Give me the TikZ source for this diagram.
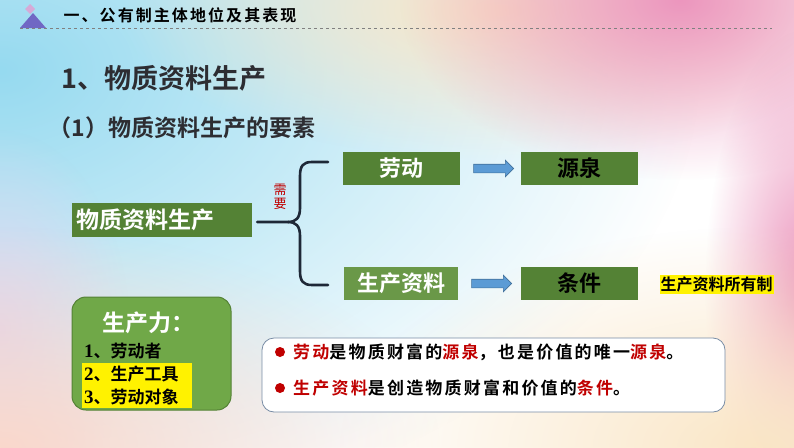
\documentclass[tikz,border=0pt]{standalone}
\usepackage{fontspec}
\setmainfont{Noto Sans CJK SC}[BoldFont={Noto Sans CJK SC Bold}]
\newfontfamily\spaced{Noto Sans CJK SC}[LetterSpace=13,BoldFont={Noto Sans CJK SC Bold}]
\newfontfamily\numfont{Liberation Serif}
\usetikzlibrary{positioning,calc,shapes.arrows,fadings}

\definecolor{boxgreen}{RGB}{84,130,53}
\definecolor{lightgreen}{RGB}{106,152,72}
\definecolor{panelgreen}{RGB}{112,168,72}
\definecolor{arrowblue}{RGB}{91,155,213}
\definecolor{arrowedge}{RGB}{65,113,156}
\definecolor{darkred}{RGB}{192,0,0}
\definecolor{bracecol}{RGB}{30,40,55}
\definecolor{hdpurple}{RGB}{112,104,196}
\definecolor{hdpink}{RGB}{214,170,215}
\definecolor{titlegray}{RGB}{45,45,50}
\definecolor{bgblue}{RGB}{150,218,240}
\definecolor{bgpink}{RGB}{236,150,190}
\definecolor{bgcream}{RGB}{250,230,198}
\definecolor{bgpeach}{RGB}{250,216,204}
\definecolor{bglav}{RGB}{222,214,240}
\definecolor{panelline}{RGB}{120,140,165}

\tikzfading[name=softedge, inner color=transparent!0, outer color=transparent!100]

\newcommand{\fsz}[1]{\fontsize{#1}{#1}\selectfont}

\begin{document}
\begin{tikzpicture}[x=1pt, y=-1pt,
    greenbox/.style={fill=boxgreen, minimum width=117pt, minimum height=33pt, inner sep=0pt, font=\bfseries\fsz{22}},
    flowarrow/.style={single arrow, draw=arrowedge, fill=arrowblue, line width=0.6pt,
        minimum height=40pt, inner xsep=0pt, inner ysep=4pt, single arrow head extend=4pt},
    brace/.style={draw=bracecol, line width=2.6pt, line cap=round, line join=round},
    hilite/.style={fill=yellow, anchor=west, inner xsep=2pt, inner ysep=0pt, minimum height=23pt,
        text width=106pt, font=\bfseries\fsz{17}},
    bullet/.style={circle, fill=darkred, inner sep=0pt, minimum size=10pt},
    blob/.style={path fading=softedge}]

    % page and background
    \useasboundingbox (0,0) rectangle (794,447);
    \fill[white] (0,0) rectangle (794,447);
    \begin{scope}
        \clip (0,0) rectangle (794,447);
        \fill[bgblue, blob] (0,70) ellipse [x radius=700pt, y radius=460pt];
        \fill[bglav, blob] (0,330) ellipse [x radius=130pt, y radius=200pt];
        \fill[bgpeach, blob] (0,447) ellipse [x radius=440pt, y radius=220pt];
        \fill[bgcream, blob] (500,10) ellipse [x radius=380pt, y radius=150pt];
        \fill[bgpink, blob] (680,0) ellipse [x radius=280pt, y radius=180pt];
        \fill[bgpink, blob] (805,290) ellipse [x radius=100pt, y radius=260pt];
        \fill[bgcream, blob] (760,447) ellipse [x radius=420pt, y radius=220pt];
    \end{scope}

    % header
    \fill[hdpink] (30,4) -- (35,9) -- (30,14) -- (25,9) -- cycle;
    \fill[hdpurple] (20,28) -- (33,13) -- (46,28) -- cycle;
    \draw[gray, dashed, line width=0.6pt] (20,28.5) -- (772,28.5);
    \node[anchor=west, font=\spaced\bfseries\fsz{16}, text=black] (header) at (60,15) {一、公有制主体地位及其表现};

    % titles
    \node[anchor=west, font=\bfseries\fsz{27}, text=titlegray] (title) at (58,78) {1、物质资料生产};
    \node[anchor=west, font=\bfseries\fsz{23}, text=titlegray] (subtitle) at (45,128) {（1）物质资料生产的要素};

    % boxes
    \node[greenbox, minimum width=180pt, minimum height=34pt, text width=172pt, align=left,
        font=\bfseries\fsz{23}, text=white] (prod) at (162,220) {物质资料生产};
    \node[greenbox, text=white] (labor) at (401.5,168.5) {劳动};
    \node[greenbox, text=black] (source) at (579.5,168.5) {源泉};
    \node[greenbox, fill=lightgreen, minimum width=114pt, text=white] (means) at (401,283.5) {生产资料};
    \node[greenbox, text=black] (cond) at (579.5,283.5) {条件};
    \node[fill=yellow, inner xsep=1pt, inner ysep=2pt, font=\bfseries\fsz{16}] (owner) at (716.5,284.5) {生产资料所有制};

    % block arrows
    \node[flowarrow] (arr1) at ($(labor.east)!0.5!(source.west)+(1,0)$) {};
    \node[flowarrow] (arr2) at ($(means.east)!0.5!(cond.west)$) {};

    % brace
    \coordinate (tip) at (288,222);
    \coordinate (btop) at (328,162);
    \coordinate (bbot) at (328,285);
    \draw[brace] ($(prod.east)+(5,2)$) -- (tip) .. controls (296,222) and (300,218) .. (300,208)
        -- (300,176) .. controls (300,166) and (303,162) .. (312,162) -- (btop);
    \draw[brace] (tip) .. controls (296,222) and (300,226) .. (300,236)
        -- (300,271) .. controls (300,281) and (303,285) .. (312,285) -- (bbot);
    \node[align=center, font=\fsz{13}, text=darkred, inner sep=0pt] (need) at (280,197) {需\\[1pt]要};

    % productive forces panel
    \draw[boxgreen, fill=panelgreen, line width=1pt, rounded corners=14pt] (72,297) rectangle (231,410);
    \node[font=\bfseries\fsz{23}, text=white] (forces) at (148,323) {生产力：};
    \node[anchor=west, font=\bfseries\fsz{17}, inner xsep=2pt] (f1) at (82,351) {{\numfont\fontsize{19}{19}\selectfont 1}、劳动者};
    \node[hilite] (f2) at (82,374) {{\numfont\fontsize{19}{19}\selectfont 2}、生产工具};
    \node[hilite] (f3) at (82,396.5) {{\numfont\fontsize{19}{19}\selectfont 3}、劳动对象};

    % explanation panel
    \draw[panelline, fill=white, line width=0.8pt, rounded corners=12pt] (262,338) rectangle (725,412);
    \node[bullet] (b1) at (280,352) {};
    \node[bullet] (b2) at (280,388) {};
    \node[anchor=west, font=\spaced\bfseries\fsz{17}, inner xsep=0pt] (line1) at (293,352)
        {\textcolor{darkred}{劳动}是物质财富的\textcolor{darkred}{源泉}，也是价值的唯一\textcolor{darkred}{源泉}。};
    \node[anchor=west, font=\spaced\bfseries\fsz{17}, inner xsep=0pt] (line2) at (293,388)
        {\textcolor{darkred}{生产资料}是创造物质财富和价值的\textcolor{darkred}{条件}。};
\end{tikzpicture}
\end{document}
